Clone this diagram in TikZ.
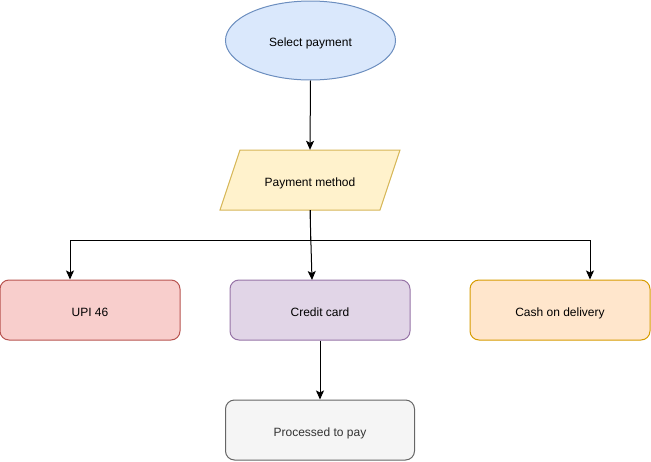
\documentclass[tikz,border=0pt]{standalone}
\usepackage{fontspec}
\setmainfont{Liberation Sans}
\usetikzlibrary{arrows.meta,shapes.geometric}
\definecolor{bluef}{HTML}{DAE8FC}\definecolor{blued}{HTML}{6C8EBF}
\definecolor{yelf}{HTML}{FFF2CC}\definecolor{yeld}{HTML}{D6B656}
\definecolor{redf}{HTML}{F8CECC}\definecolor{redd}{HTML}{B85450}
\definecolor{purf}{HTML}{E1D5E7}\definecolor{purd}{HTML}{9673A6}
\definecolor{orf}{HTML}{FFE6CC}\definecolor{ord}{HTML}{D79B00}
\definecolor{grf}{HTML}{F5F5F5}\definecolor{grd}{HTML}{666666}
\definecolor{grt}{HTML}{333333}
\tikzset{
  lbl/.style={font=\fontsize{12}{14}\selectfont, text=black, inner sep=0pt, text height=12.5pt, text depth=0pt},
  rbox/.style={lbl, draw, line width=1pt, rounded corners=9pt, minimum width=180pt, minimum height=60pt},
  arr/.style={line width=1pt, -{Stealth[length=9pt,width=8pt,inset=2pt]}},
  ln/.style={line width=1pt}
}
\begin{document}
\begin{tikzpicture}[x=1pt,y=-1pt]
\useasboundingbox (0,0) rectangle (651,461);
\node[lbl, ellipse, draw=blued, fill=bluef, line width=1pt, minimum width=170pt, minimum height=79pt] (sel) at (310.5,40.5) {Select payment};
\path[draw=yeld, fill=yelf, line width=1pt] (240,150) -- (400,150) -- (380,210) -- (220,210) -- cycle;
\node[lbl, minimum width=160pt, minimum height=60pt] (pm) at (310,180) {Payment method};
\node[rbox, draw=redd, fill=redf] (upi) at (90,310) {UPI 46};
\node[rbox, draw=purd, fill=purf] (cc) at (320,310) {Credit card};
\node[rbox, draw=ord, fill=orf] (cod) at (560,310) {Cash on delivery};
\node[rbox, draw=grd, fill=grf, text=grt, minimum width=189pt] (proc) at (320,430) {Processed to pay};
\coordinate (jl) at (70,240);
\coordinate (jr) at (590,240);
\coordinate (ccin) at (312,280);
\draw[arr] (sel.south) -- (pm.north);
\draw[arr] (pm.south) |- (jl) -- (upi.north -| jl);
\draw[arr] (pm.south) |- (jr) -- (cod.north -| jr);
\draw[arr] (pm.south) -- (ccin);
\draw[arr] (cc.south) -- (proc.north);
\end{tikzpicture}
\end{document}
